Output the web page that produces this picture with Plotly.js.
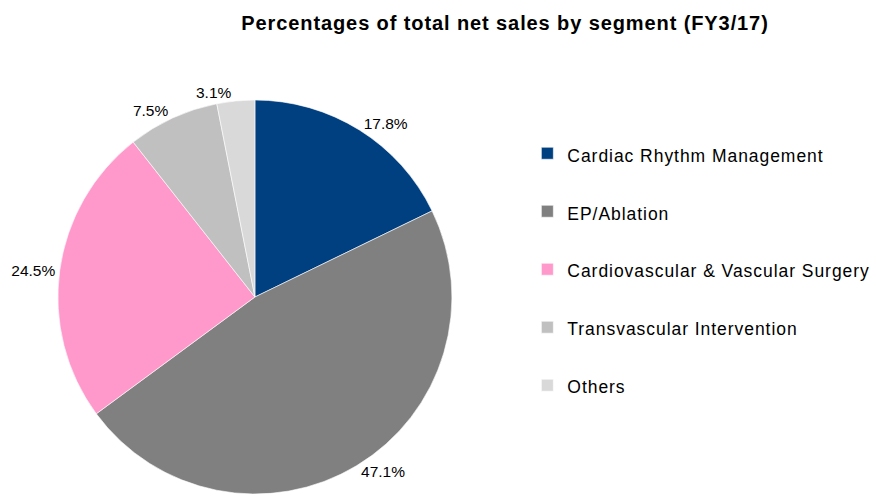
<!DOCTYPE html>
<html>
<head>
<meta charset="utf-8">
<script src="https://cdn.plot.ly/plotly-3.0.1.min.js"></script>
<style>html,body{margin:0;padding:0;background:#fff;}#chart{width:876px;height:500px;}</style>
</head>
<body>
<div id="chart"></div>
<script>
var categories = ["Cardiac Rhythm Management", "EP/Ablation", "Cardiovascular & Vascular Surgery", "Transvascular Intervention", "Others"];
var shares = [17.8, 47.1, 24.5, 7.5, 3.1];
var colors = ["#003F80", "#808080", "#FF99CC", "#C0C0C0", "#D9D9D9"];
var chartTitle = "Percentages of total net sales by segment (FY3/17)";

var FONT = "Liberation Sans, Arial, sans-serif";
function esc(s) { return s.replace(/&/g, "&amp;"); }
var legendLabels = categories.map(function (c) {
  return '<span style="font-size:17.5px;letter-spacing:0.95px">' + esc(c) + '</span><br> ';
});

var trace = {
  type: "pie",
  labels: legendLabels,
  values: shares,
  text: shares.map(function (v) { return v.toFixed(1) + "%"; }),
  textinfo: "text",
  textposition: "outside",
  textfont: {family: FONT, size: 15.5, color: "#000"},
  marker: {colors: colors, line: {color: "#fff", width: 0.6}},
  sort: false,
  direction: "clockwise",
  rotation: 0,
  hoverinfo: "none",
  domain: {x: [0.066, 0.516], y: [0.012, 0.8]}
};

var layout = {
  width: 876, height: 500,
  margin: {l: 0, r: 0, t: 0, b: 0, autoexpand: false},
  paper_bgcolor: "#fff",
  title: {
    text: '<span style="letter-spacing:0.9px">' + esc(chartTitle) + '</span>',
    font: {family: FONT, size: 20, color: "#000", weight: "bold"},
    x: 0.5765, xanchor: "center", y: 0.955, yanchor: "middle"
  },
  showlegend: true,
  legend: {
    x: 0.602, xanchor: "left", y: 0.734, yanchor: "top",
    font: {family: FONT, size: 21.15, color: "#000"},
    valign: "top",
    bgcolor: "rgba(0,0,0,0)",
    borderwidth: 0,
    traceorder: "normal"
  }
};

Plotly.newPlot("chart", [trace], layout, {displayModeBar: false, staticPlot: true});
</script>
</body>
</html>
